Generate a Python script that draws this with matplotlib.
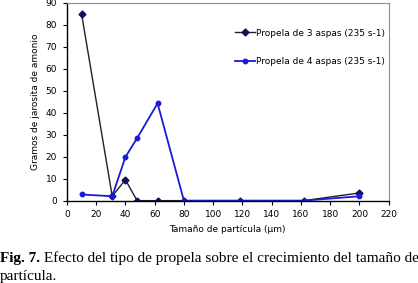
import matplotlib
matplotlib.use("Agg")
import matplotlib.pyplot as plt

tamano = [10, 31, 40, 48, 62, 80, 118, 162, 200]
aspas3 = [85, 2, 9.5, 0, 0, 0, 0, 0, 3.5]
aspas4 = [2.8, 2, 19.8, 28.4, 44.2, 0, 0, 0, 2]

xticks = list(range(0, 221, 20))
yticks = list(range(0, 91, 10))

fig = plt.figure(figsize=(4.18, 2.83), dpi=100)
ax = fig.add_axes([0.16, 0.291, 0.77, 0.70])

ax.plot(tamano, aspas3, color='#202030', lw=1, marker='D', ms=3.5,
        mfc='#10105a', mec='#10105a', label='Propela de 3 aspas (235 s-1)')
ax.plot(tamano, aspas4, color='#1a1ad8', lw=1.3, marker='o', ms=3.2,
        mfc='#1a1ad8', mec='#1a1ad8', label='Propela de 4 aspas (235 s-1)')

ax.set_xlim(0, 220)
ax.set_ylim(0, 90)
ax.set_xticks(xticks)
ax.set_yticks(yticks)
ax.tick_params(labelsize=6.5, length=3, width=0.8, direction='out', pad=4)
for s in ['top', 'right']:
    ax.spines[s].set_color('#909090')
    ax.spines[s].set_linewidth(0.8)
for s in ['left', 'bottom']:
    ax.spines[s].set_color('black')
    ax.spines[s].set_linewidth(1)

ax.set_xlabel('Tamaño de partícula (µm)', fontsize=6.5, labelpad=4)
ax.set_ylabel('Gramos de jarosita de amonio', fontsize=6.5, labelpad=4)

ax.legend(loc='upper right', bbox_to_anchor=(1.015, 0.91), frameon=False,
          fontsize=6.5, handlelength=2.2, handletextpad=0.2, labelspacing=2.2)

# caption: bold "Fig. 7." followed by regular text
cap_font = dict(fontsize=11, family='Liberation Serif', va='baseline')
t1 = fig.text(0.0, 0.075, 'Fig. 7.', weight='bold', **cap_font)
fig.canvas.draw()
bb = t1.get_window_extent()
x2 = bb.x1 / fig.bbox.width
fig.text(x2, 0.075, ' Efecto del tipo de propela sobre el crecimiento del tamaño de',
         **cap_font)
fig.text(0.0, 0.012, 'partícula.', **cap_font)

fig.savefig('out.png', dpi=100)
